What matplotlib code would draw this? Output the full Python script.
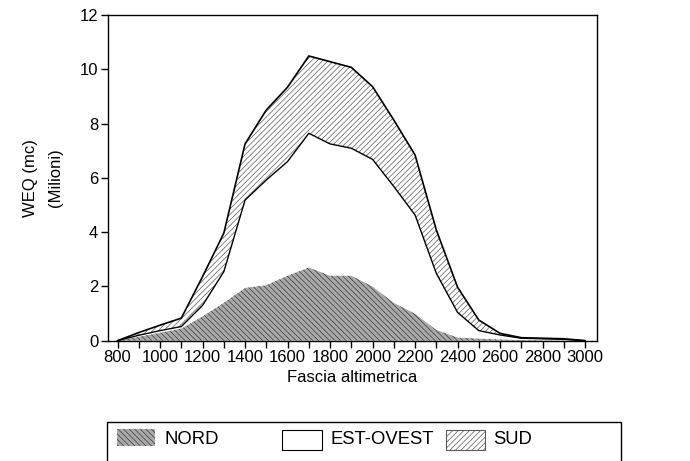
import matplotlib
matplotlib.use("Agg")
import matplotlib.pyplot as plt
from matplotlib.patches import Rectangle
import numpy as np

plt.rcParams['font.family'] = ['Liberation Sans', 'DejaVu Sans']
plt.rcParams['hatch.linewidth'] = 0.5

quote = [800, 900, 1000, 1100, 1200, 1300, 1400, 1500, 1600, 1700, 1800, 1900,
         2000, 2100, 2200, 2300, 2400, 2500, 2600, 2700, 2800, 2900, 3000]
nord = [0.0, 0.15, 0.3, 0.45, 0.9, 1.4, 1.95, 2.05, 2.4, 2.7, 2.4, 2.4,
        2.0, 1.4, 1.0, 0.4, 0.12, 0.08, 0.05, 0.03, 0.02, 0.01, 0.0]
est_ovest = [0.0, 0.05, 0.07, 0.07, 0.4, 1.14, 3.23, 3.87, 4.2, 4.94, 4.85, 4.69,
             4.68, 4.28, 3.63, 2.08, 0.92, 0.29, 0.16, 0.06, 0.05, 0.04, 0.0]
sud = [0.0, 0.1, 0.2, 0.31, 1.06, 1.42, 2.07, 2.58, 2.74, 2.85, 3.03, 2.98,
       2.68, 2.45, 2.21, 1.6, 0.93, 0.39, 0.06, 0.02, 0.02, 0.02, 0.0]

x = np.array(quote)
n = np.array(nord)
e = np.array(est_ovest)
s = np.array(sud)
mid = n + e
top = mid + s

NORD_KW = dict(facecolor='#a9a9a9', edgecolor='#3a3a3a', hatch='\\\\\\\\\\\\')
SUD_KW = dict(facecolor='white', edgecolor='#5a5a5a', hatch='//////')

fig = plt.figure(figsize=(6.9, 4.61), dpi=100)
ax = fig.add_axes([0.1565, 0.261, 0.7087, 0.7065])

ax.fill_between(x, 0, n, linewidth=0, **NORD_KW)
ax.fill_between(x, n, mid, facecolor='white', linewidth=0)
ax.fill_between(x, mid, top, linewidth=0, **SUD_KW)
ax.plot(x, mid, color='black', lw=1.0)
ax.plot(x, top, color='black', lw=1.2)

ax.set_xlim(755, 3056)
ax.set_ylim(0, 12)
ax.set_yticks(np.arange(0, 13, 2))
ax.set_xticks(np.arange(800, 3001, 200))
ax.set_xticks(np.arange(800, 3001, 100), minor=True)
ax.tick_params(axis='both', which='major', direction='out', length=5, width=1,
               labelsize=12, pad=2)
ax.tick_params(axis='x', which='minor', direction='out', length=5, width=1)
for sp in ax.spines.values():
    sp.set_linewidth(1.0)

ax.set_xlabel('Fascia altimetrica', fontsize=12, labelpad=3)
fig.text(30 / 690, 1 - 178 / 461, 'WEQ (mc)', rotation=90, fontsize=12,
         ha='center', va='center')
fig.text(56 / 690, 1 - 178 / 461, '(Milioni)', rotation=90, fontsize=12,
         ha='center', va='center')

# legend box
def px(xp, yp):
    return xp / 690, 1 - yp / 461

lx0, ly0 = px(107, 462)
lx1, ly1 = px(621, 422)
fig.patches.append(Rectangle((lx0, ly0), lx1 - lx0, ly1 - ly0, transform=fig.transFigure,
                             facecolor='none', edgecolor='black', lw=1.0, clip_on=False))

def legbox(x0, x1, y0, y1, **kw):
    a, b = px(x0, y1)
    c, d = px(x1, y0)
    fig.patches.append(Rectangle((a, b), c - a, d - b, transform=fig.transFigure, **kw))

legbox(117, 155, 429, 446, lw=0, **NORD_KW)
fig.text(*px(165, 439), 'NORD', fontsize=13.3, ha='left', va='center')
legbox(282, 322, 430, 450, facecolor='white', edgecolor='black', lw=0.8)
fig.text(*px(330, 439), 'EST-OVEST', fontsize=13.3, ha='left', va='center')
legbox(446, 485, 430, 450, lw=0.8, **SUD_KW)
fig.text(*px(493, 439), 'SUD', fontsize=13.3, ha='left', va='center')

fig.savefig('out.png', dpi=100)
